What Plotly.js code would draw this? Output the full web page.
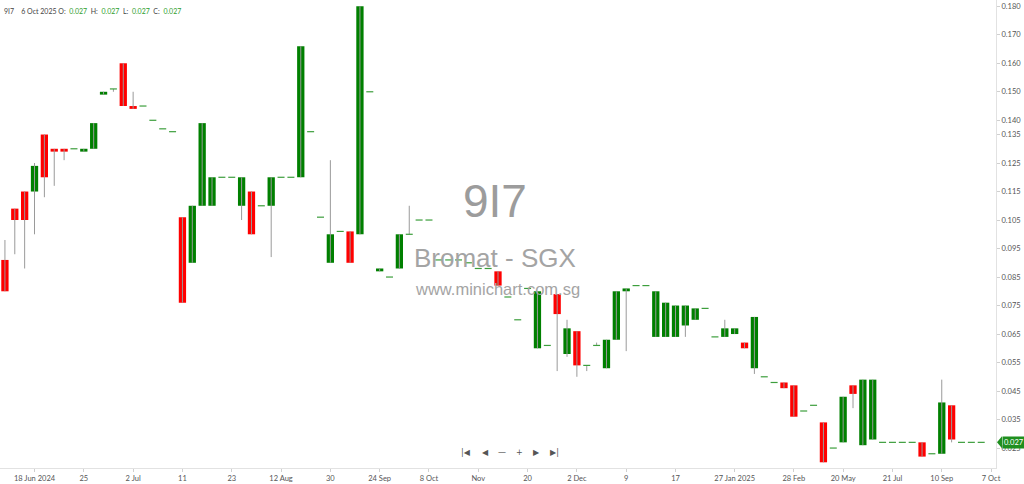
<!DOCTYPE html>
<html>
<head>
<meta charset="utf-8">
<script src="https://cdn.plot.ly/plotly-3.0.1.min.js"></script>
<style>
  html, body { margin: 0; padding: 0; background: #fff; }
  #chart { width: 1024px; height: 484px; }
</style>
</head>
<body>
<div id="chart"></div>
<script>
/* 9I7 Bromat - SGX daily candles, one slot per traded day (gaps skipped) */

// OHLC per traded day (SGD)
const open  = [0.091,0.109,0.115,0.115,0.135,0.130,0.130,0.130,0.129,0.130,
               0.149,0.151,0.160,0.145,0.145,0.140,0.137,0.136,0.106,0.090,
               0.110,0.110,0.120,0.120,0.110,0.115,0.110,0.110,0.120,0.120,
               0.120,0.136,0.106,0.090,0.101,0.101,0.100,0.150,0.087,0.085,
               0.088,0.100,0.105,0.105,0.091,0.091,0.091,0.090,0.088,0.088,
               0.087,0.078,0.070,0.081,0.060,0.061,0.079,0.058,0.066,0.054,
               0.061,0.053,0.063,0.080,0.082,0.082,0.064,0.064,0.064,0.068,
               0.070,0.074,0.064,0.064,0.065,0.062,0.053,0.050,0.048,0.048,
               0.047,0.038,0.040,0.034,0.025,0.027,0.047,0.026,0.028,0.027,
               0.027,0.027,0.027,0.027,0.023,0.023,0.040,0.027,0.027,0.027];
const high  = [0.098,0.109,0.115,0.125,0.135,0.130,0.130,0.130,0.130,0.139,
               0.150,0.151,0.160,0.150,0.145,0.140,0.137,0.136,0.106,0.110,
               0.139,0.120,0.120,0.120,0.120,0.115,0.110,0.120,0.120,0.120,
               0.166,0.136,0.106,0.126,0.101,0.101,0.180,0.150,0.088,0.085,
               0.100,0.110,0.105,0.105,0.091,0.091,0.091,0.090,0.088,0.088,
               0.087,0.078,0.070,0.081,0.080,0.061,0.079,0.070,0.066,0.054,
               0.062,0.063,0.080,0.081,0.082,0.082,0.080,0.076,0.075,0.075,
               0.074,0.074,0.064,0.070,0.067,0.062,0.071,0.050,0.048,0.048,
               0.047,0.038,0.040,0.034,0.025,0.043,0.047,0.049,0.049,0.027,
               0.027,0.027,0.027,0.027,0.023,0.049,0.040,0.027,0.027,0.027];
const low   = [0.080,0.093,0.088,0.100,0.113,0.117,0.126,0.130,0.129,0.130,
               0.149,0.150,0.145,0.144,0.145,0.140,0.137,0.136,0.076,0.090,
               0.110,0.110,0.120,0.120,0.105,0.100,0.110,0.092,0.120,0.120,
               0.120,0.136,0.106,0.090,0.101,0.090,0.100,0.150,0.087,0.085,
               0.088,0.100,0.105,0.105,0.091,0.091,0.091,0.090,0.088,0.088,
               0.082,0.078,0.070,0.081,0.060,0.061,0.052,0.057,0.050,0.052,
               0.061,0.053,0.063,0.059,0.082,0.082,0.064,0.064,0.064,0.064,
               0.070,0.074,0.064,0.064,0.065,0.060,0.051,0.050,0.048,0.046,
               0.036,0.038,0.040,0.020,0.025,0.027,0.039,0.026,0.028,0.027,
               0.027,0.027,0.027,0.022,0.023,0.023,0.027,0.027,0.027,0.027];
const close = [0.080,0.105,0.105,0.124,0.120,0.129,0.129,0.130,0.130,0.139,
               0.150,0.151,0.145,0.144,0.145,0.140,0.137,0.136,0.076,0.110,
               0.139,0.120,0.120,0.120,0.120,0.100,0.110,0.120,0.120,0.120,
               0.166,0.136,0.106,0.100,0.101,0.090,0.180,0.150,0.088,0.085,
               0.100,0.100,0.105,0.105,0.091,0.091,0.091,0.090,0.088,0.088,
               0.082,0.078,0.070,0.081,0.080,0.061,0.072,0.067,0.054,0.054,
               0.061,0.063,0.080,0.081,0.082,0.082,0.080,0.076,0.075,0.075,
               0.074,0.074,0.064,0.067,0.067,0.060,0.071,0.050,0.048,0.046,
               0.036,0.038,0.040,0.020,0.025,0.043,0.044,0.049,0.049,0.027,
               0.027,0.027,0.027,0.022,0.023,0.041,0.028,0.027,0.027,0.027];

// x axis labels sit on particular candle slots
const tickSlots  = [3, 8, 13, 18, 23, 28, 33, 38, 43, 48, 53, 58, 63, 68, 74, 80, 85, 90, 95, 100];
const tickLabels = ["18 Jun 2024","25","2 Jul","11","23","12 Aug","30","24 Sep","8 Oct","Nov",
                    "20","2 Dec","9","17","27 Jan 2025","28 Feb","20 May","21 Jul","10 Sep","7 Oct"];
const priceTicks = [0.180,0.170,0.160,0.150,0.140,0.135,0.125,0.115,0.105,0.095,
                    0.085,0.075,0.065,0.055,0.045,0.035,0.025];

const lastDate = "6 Oct 2025";

const GREEN = "#008000", RED = "#ff0000", DASH = "#3c9e3c", WICK = "#9a9a9a";
const TXT = "#555";

// wicks: one segment per candle, nulls split them
const wx = [], wy = [];
open.forEach((o, i) => {
  if (high[i] > low[i]) { wx.push(i, i, null); wy.push(low[i], high[i], null); }
});

// bodies vs flat (open == close) days
const bx = [], bBase = [], bLen = [], bCol = [];
const dx = [], dy = [];
open.forEach((o, i) => {
  const c = close[i];
  if (o === c) { dx.push(i); dy.push(c); return; }
  bx.push(i);
  bBase.push(Math.min(o, c));
  bLen.push(Math.abs(c - o));
  bCol.push(c > o ? GREEN : RED);
});

const traces = [
  { type: "scatter", mode: "lines", x: wx, y: wy,
    line: { color: WICK, width: 1 }, hoverinfo: "skip" },
  { type: "bar", x: bx, base: bBase, y: bLen, width: 0.74,
    marker: { color: bCol, line: { width: 0 } }, hoverinfo: "skip" },
  // line-ew spans 1.4 x size, so size 5 gives ~7px dashes
  { type: "scatter", mode: "markers", x: dx, y: dy,
    marker: { symbol: "line-ew", size: 5, line: { color: DASH, width: 1.2 } },
    hoverinfo: "skip" },
];

const c0 = close[close.length - 1];
const sp = "\u00a0";
const g = v => "<span style='color:#2e9e2e'>" + v.toFixed(3) + "</span>";
const header = "9I7" + sp.repeat(4) + lastDate + sp + "O:" + sp.repeat(2) + g(open[99]) +
  sp.repeat(2) + "H:" + sp.repeat(2) + g(high[99]) + sp.repeat(2) + "L:" + sp.repeat(2) + g(low[99]) +
  sp.repeat(2) + "C:" + sp.repeat(2) + g(c0);

const navBtns = [["|\u25C0", 466], ["\u25C0", 485], ["\u2014", 502], ["+", 519], ["\u25B6", 536], ["\u25B6|", 554]];

const layout = {
  width: 1024, height: 484,
  margin: { l: 0, r: 28, t: 0, b: 16 },
  paper_bgcolor: "#fff", plot_bgcolor: "#fff",
  showlegend: false, barmode: "overlay",
  font: { family: "Lato, 'Open Sans', sans-serif", color: TXT, size: 7.5 },
  xaxis: {
    range: [-0.5, 100.5], tickvals: tickSlots, ticktext: tickLabels,
    showgrid: false, zeroline: false, showline: true, linecolor: "#e2e2e2",
    ticks: "outside", ticklen: 3, tickcolor: "#d0d0d0",
    tickfont: { size: 7.5, color: TXT },
  },
  yaxis: {
    side: "right", range: [0.0180, 0.1822], tickvals: priceTicks, tickformat: ".3f",
    showgrid: false, zeroline: false, showline: true, linecolor: "#e2e2e2",
    ticks: "outside", ticklen: 3, tickcolor: "#d0d0d0",
    tickfont: { size: 7.5, color: TXT },
  },
  shapes: [{
    type: "path", xref: "paper", yref: "y", xsizemode: "pixel", ysizemode: "pixel",
    xanchor: 1, yanchor: c0, path: "M1,0 L6,6 L6,-6 Z",
    fillcolor: "#1f8f1f", line: { width: 0 },
  }],
  annotations: [
    { text: header, xref: "paper", yref: "paper", x: 0, y: 1, xanchor: "left", yanchor: "top",
      xshift: 2, yshift: -5, showarrow: false, font: { size: 7, color: "#444" } },
    { text: "9I7", xref: "paper", yref: "paper", x: 495 / 996, y: 1 - 201 / 468,
      showarrow: false, font: { family: "'Liberation Sans', Arial, sans-serif", size: 46, color: "#9c9c9c" } },
    { text: "Bromat - SGX", xref: "paper", yref: "paper", x: 495 / 996, y: 1 - 258 / 468,
      showarrow: false, font: { family: "'Liberation Sans', Arial, sans-serif", size: 26, color: "#a4a4a4" } },
    { text: "www.minichart.com.sg", xref: "paper", yref: "paper", x: 497 / 996, y: 1 - 289 / 468,
      showarrow: false, font: { family: "'Liberation Sans', Arial, sans-serif", size: 16.5, color: "#a4a4a4" } },
    { text: c0.toFixed(3), xref: "paper", yref: "y", x: 1, y: c0, xanchor: "left", xshift: 6,
      showarrow: false, bgcolor: "#1f8f1f", borderpad: 1, font: { size: 7.5, color: "#fff" } },
  ].concat(navBtns.map(([t, px]) => ({
    text: t, xref: "paper", yref: "paper", x: px / 996, y: 1 - 459 / 468,
    showarrow: false, font: { family: "'DejaVu Sans', sans-serif", size: 8, color: "#555" },
  }))),
};

Plotly.newPlot("chart", traces, layout, { staticPlot: true, displayModeBar: false });
</script>
</body>
</html>
